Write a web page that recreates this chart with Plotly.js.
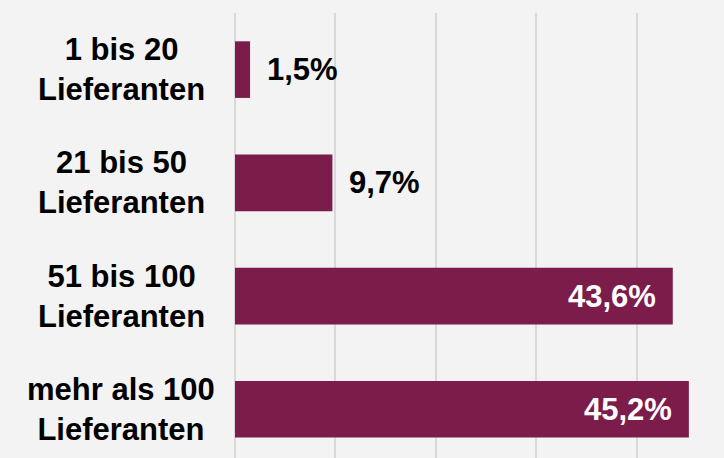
<!DOCTYPE html>
<html>
<head>
<meta charset="utf-8">
<script src="https://cdn.plot.ly/plotly-3.0.1.min.js"></script>
<style>html,body{margin:0;padding:0;background:#f3f3f3;}#chart{width:724px;height:458px;}</style>
</head>
<body>
<div id="chart"></div>
<script>
const categories = ["1 bis 20<br>Lieferanten", "21 bis 50<br>Lieferanten", "51 bis 100<br>Lieferanten", "mehr als 100<br>Lieferanten"];
const values = [1.5, 9.7, 43.6, 45.2];

const barColor = "#7b1c4a";
const fontFamily = "'Liberation Sans', Arial, sans-serif";
const fmt = v => v.toFixed(1).replace(".", ",") + "%";

const annotations = [];
categories.forEach((c, i) => {
  annotations.push({
    xref: "paper", yref: "y", x: -0.233, y: c,
    xanchor: "center", yanchor: "middle", align: "center",
    text: "<b>" + c + "</b>", showarrow: false,
    font: {family: fontFamily, size: 31, color: "#000000"}
  });
  const inside = values[i] > 20;
  annotations.push({
    xref: "x", yref: "y", x: values[i], y: c,
    xanchor: inside ? "right" : "left", yanchor: "middle",
    xshift: inside ? -15 : 15,
    text: "<b>" + fmt(values[i]) + "</b>", showarrow: false,
    font: {family: fontFamily, size: 31, color: inside ? "#ffffff" : "#000000"}
  });
});

const trace = {
  type: "bar", orientation: "h",
  x: values, y: categories,
  width: 0.5,
  marker: {color: barColor, line: {width: 0}},
  hoverinfo: "none"
};

const layout = {
  width: 724, height: 458,
  margin: {l: 235, r: 0, t: 13, b: 0, pad: 0},
  paper_bgcolor: "#f3f3f3", plot_bgcolor: "#f3f3f3",
  showlegend: false,
  xaxis: {
    range: [0, 48.7], tick0: 0, dtick: 10,
    showgrid: true, gridcolor: "#d9d9d9", gridwidth: 2,
    zeroline: true, zerolinecolor: "#d9d9d9", zerolinewidth: 2,
    showticklabels: false, ticks: "", showline: false, fixedrange: true
  },
  yaxis: {
    type: "category", range: [3.43, -0.5],
    showgrid: false, zeroline: false, showline: false,
    showticklabels: false, ticks: "", fixedrange: true
  },
  annotations: annotations,
  font: {family: fontFamily}
};

Plotly.newPlot("chart", [trace], layout, {displayModeBar: false, staticPlot: true});
</script>
</body>
</html>
